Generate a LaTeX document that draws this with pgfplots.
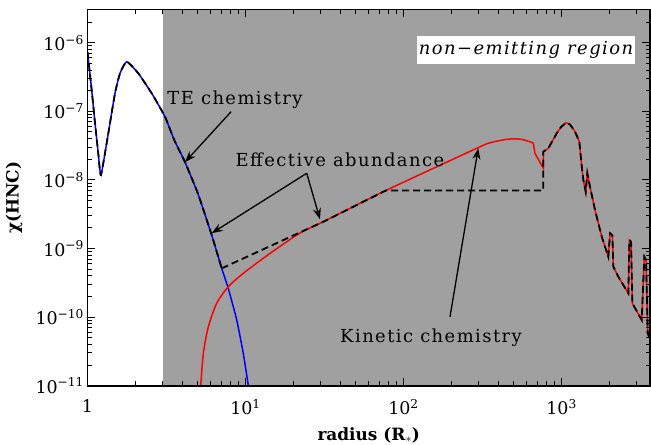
\documentclass[border=0pt]{standalone}
\usepackage{fontspec}
\setmainfont{DejaVu Serif}
\usepackage{pgfplots}
\pgfplotsset{compat=1.18}
\usetikzlibrary{arrows.meta}
\definecolor{Shade}{HTML}{A0A0A0}

\begin{document}
\begin{tikzpicture}
\begin{axis}[
  scale only axis, width=562.5bp, height=376.2bp,
  xmode=log, ymode=log,
  xmin=1, xmax=3630, ymin=1e-11, ymax=3.05e-6,
  axis on top,
  axis line style={line width=1.6bp},
  every tick/.style={black, line width=1bp},
  major tick length=8bp, minor tick length=4.5bp,
  xtick={1,10,100,1000},
  xticklabels={1,10\textsuperscript{1},10\textsuperscript{2},10\textsuperscript{3}},
  minor xtick={2,3,4,5,6,7,8,9,20,30,40,50,60,70,80,90,200,300,400,500,600,700,800,900,2000,3000},
  ytick={1e-11,1e-10,1e-9,1e-8,1e-7,1e-6},
  yticklabels={10\textsuperscript{−11},10\textsuperscript{−10},10\textsuperscript{−9},10\textsuperscript{−8},10\textsuperscript{−7},10\textsuperscript{−6}},
  minor ytick={2e-11,3e-11,4e-11,5e-11,6e-11,7e-11,8e-11,9e-11,
    2e-10,3e-10,4e-10,5e-10,6e-10,7e-10,8e-10,9e-10,
    2e-9,3e-9,4e-9,5e-9,6e-9,7e-9,8e-9,9e-9,
    2e-8,3e-8,4e-8,5e-8,6e-8,7e-8,8e-8,9e-8,
    2e-7,3e-7,4e-7,5e-7,6e-7,7e-7,8e-7,9e-7,2e-6,3e-6},
  tick label style={font=\fontsize{17.5}{20}\selectfont},
  xticklabel style={yshift=-10bp},
]
% non-emitting region
\addplot[fill=Shade,draw=none] coordinates {(3,1e-12)(5000,1e-12)(5000,1e-5)(3,1e-5)} -- cycle;

% TE chemistry
\addplot[blue,line width=1.5bp,smooth,tension=0.3] coordinates {
  (1,7.3e-7)(1.063,2.04e-7)(1.116,6.7e-8)(1.170,2.44e-8)(1.217,1.18e-8)
  (1.354,4.78e-8)(1.493,1.83e-7)(1.606,3.58e-7)(1.771,5.28e-7)(2.097,3.58e-7)
  (2.549,1.83e-7)(3.094,8.34e-8)(3.54,3.82e-8)(4.14,1.82e-8)(5.0,6.3e-9)(6.11,1.57e-9)
  (7.07,5.14e-10)(7.78,2.63e-10)(8.80,9.08e-11)(9.68,2.96e-11)(10.42,1e-11)(10.6,7e-12)};

% kinetic chemistry
\addplot[red,line width=1.5bp,smooth,tension=0.45] coordinates {
  (5.19,7e-12)(5.21,1e-11)(5.41,2.96e-11)(5.82,7.24e-11)(6.57,1.59e-10)(7.78,2.77e-10)
  (9.68,4.35e-10)(14.3,8.5e-10)(22.1,1.68e-9)(31.1,2.46e-9)(74.5,6.73e-9)(290.5,2.89e-8)
  (352.8,3.48e-8)(408,3.75e-8)(472,3.95e-8)(560,3.9e-8)(663,3.45e-8)};
\addplot[red,line width=1.5bp] coordinates {
  (663,3.45e-8)(679,2.44e-8)(767,1.48e-8)(767,2.58e-8)
  (825,2.89e-8)(932,4.78e-8)(993,5.9e-8)(1068,6.83e-8)(1132,6.43e-8)(1217,5.05e-8)(1296,3.61e-8)(1343,1.56e-8)
  (1374,9.97e-9)(1423,6.73e-9)(1456,1.25e-8)(1514,7.96e-9)(1629,3.64e-9)(1797,1.49e-9)
  (1977,7.59e-10)(2028,1.67e-9)(2097,1.57e-9)(2128,5.43e-10)(2288,3.88e-10)(2648,2.22e-10)
  (2686,1.33e-9)(2754,1.26e-9)(2806,1.59e-10)(3218,9.08e-11)(3342,7.59e-10)(3427,6.79e-10)
  (3513,5.81e-11)(3686,4.37e-11)};

% effective abundance
\addplot[black,line width=1.8bp,dash pattern=on 7bp off 4bp,smooth,tension=0.3] coordinates {
  (1,7.3e-7)(1.063,2.04e-7)(1.116,6.7e-8)(1.170,2.44e-8)(1.217,1.18e-8)
  (1.354,4.78e-8)(1.493,1.83e-7)(1.606,3.58e-7)(1.771,5.28e-7)(2.097,3.58e-7)
  (2.549,1.83e-7)(3.094,8.34e-8)(3.54,3.82e-8)(4.14,1.82e-8)(5.0,6.3e-9)(6.11,1.57e-9)
  (7.07,5.14e-10)};
\addplot[black,line width=1.8bp,dash pattern=on 7bp off 4bp] coordinates {
  (7.07,5.14e-10)(31.1,2.46e-9)(74.5,6.73e-9)(77.5,7.0e-9)(767,7.0e-9)(767,2.58e-8)
  (825,2.89e-8)(932,4.78e-8)(993,5.9e-8)(1068,6.83e-8)(1132,6.43e-8)(1217,5.05e-8)(1296,3.61e-8)(1343,1.56e-8)
  (1374,9.97e-9)(1423,6.73e-9)(1456,1.25e-8)(1514,7.96e-9)(1629,3.64e-9)(1797,1.49e-9)
  (1977,7.59e-10)(2028,1.67e-9)(2097,1.57e-9)(2128,5.43e-10)(2288,3.88e-10)(2648,2.22e-10)
  (2686,1.33e-9)(2754,1.26e-9)(2806,1.59e-10)(3218,9.08e-11)(3342,7.59e-10)(3427,6.79e-10)
  (3513,5.81e-11)(3686,4.37e-11)};

% annotations
\tikzset{note/.style={font=\fontsize{18}{20}\selectfont\addfontfeatures{LetterSpace=8},inner sep=0pt},
  pointer/.style={-{Stealth[length=11bp,width=8bp]},line width=1.3bp}}
\node[note] at (axis cs:8.58,1.46e-7) {TE chemistry};
\draw[pointer] (axis cs:8.10,9.86e-8) -- (axis cs:4.14,1.82e-8);
\node[note] at (axis cs:39.6,1.95e-8) {Effective abundance};
\draw[pointer] (axis cs:24.4,1.25e-8) -- (axis cs:6.11,1.67e-9);
\draw[pointer] (axis cs:24.4,1.25e-8) -- (axis cs:29.6,2.67e-9);
\node[note] at (axis cs:149.3,4.95e-11) {Kinetic chemistry};
\draw[pointer] (axis cs:196.9,1.01e-10) -- (axis cs:297,2.89e-8);
\node[note,fill=white,inner xsep=1.5bp,inner ysep=5bp,font=\fontsize{18}{20}\selectfont\itshape\addfontfeatures{LetterSpace=8}]
  at (axis cs:596,7.84e-7) {non−emitting region};
\end{axis}
\node[font=\fontsize{17}{20}\selectfont\bfseries] at ([yshift=-49.3bp]current axis.south) {radius (R$_*$)};
\node[font=\fontsize{17}{20}\selectfont\bfseries,rotate=90] at ([xshift=-73.5bp]current axis.west) {χ(HNC)};
\pgfresetboundingbox
\path[use as bounding box] ([shift={(-87.5bp,-59.3bp)}]current axis.south west)
  rectangle ([shift={(1bp,9.5bp)}]current axis.north east);
\end{tikzpicture}
\end{document}
